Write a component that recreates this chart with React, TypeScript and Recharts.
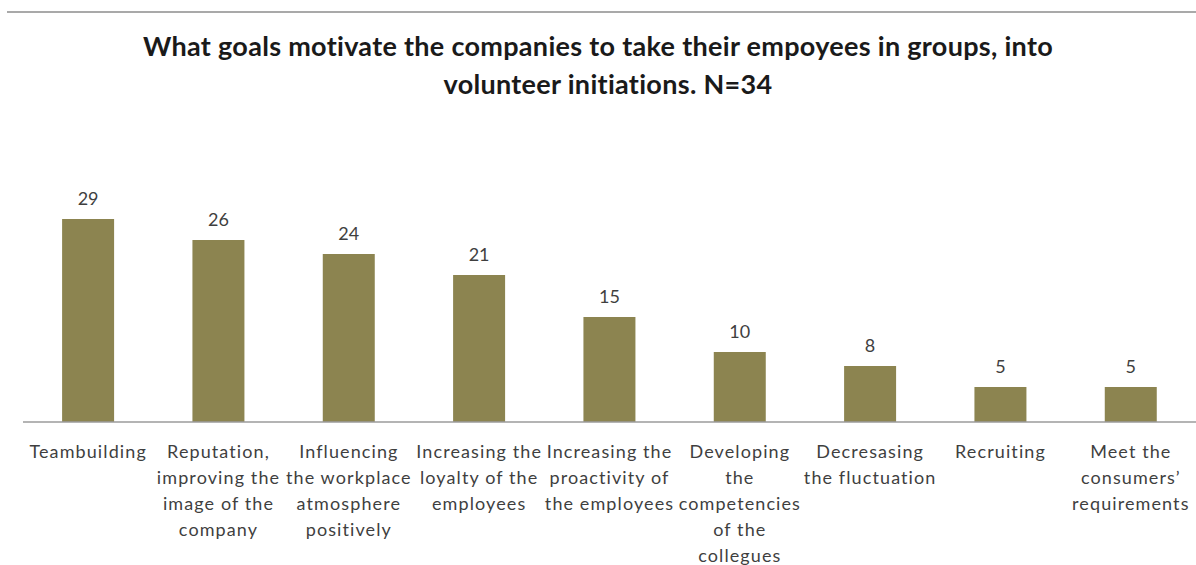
import { BarChart, Bar, XAxis, YAxis, LabelList } from 'recharts'

const categories = [
  'Teambuilding',
  'Reputation,\nimproving the\nimage of the\ncompany',
  'Influencing\nthe workplace\natmosphere\npositively',
  'Increasing the\nloyalty of the\nemployees',
  'Increasing the\nproactivity of\nthe employees',
  'Developing\nthe\ncompetencies\nof the\ncollegues',
  'Decresasing\nthe fluctuation',
  'Recruiting',
  'Meet the\nconsumers’\nrequirements',
]

const counts = [29, 26, 24, 21, 15, 10, 8, 5, 5]

const titleLines = [
  'What goals motivate the companies to take their empoyees in groups, into',
  'volunteer initiations. N=34',
]

const data = categories.map((name, i) => ({ name, value: counts[i] }))

const FONT = 'Lato, "Open Sans", sans-serif'
const BAR_COLOR = '#8c8450'
const TEXT_COLOR = '#3f3f3f'

function CategoryTick(props: any) {
  const { x, y, payload } = props
  const lines = String(payload.value).split('\n')
  return (
    <text x={x} y={y} textAnchor="middle" fill={TEXT_COLOR} fontSize={18} fontFamily={FONT} letterSpacing={1.1}>
      {lines.map((line, i) => (
        <tspan key={i} x={x} dy={i === 0 ? 36 : 26}>{line}</tspan>
      ))}
    </text>
  )
}

export default function App() {
  return (
    <div style={{ position: 'absolute', left: 0, top: 0, width: 1196, height: 565, background: '#fff', overflow: 'hidden' }}>
      <div style={{ position: 'absolute', left: 7, right: 0, top: 11, height: 2, background: '#a9a9a9' }} />
      <div style={{
        position: 'absolute', left: 0, top: 27, width: 1196, textAlign: 'center',
        fontFamily: FONT, fontWeight: 700, fontSize: 27, letterSpacing: 0.3, lineHeight: '38px', color: '#1a1a1a',
      }}>
        {titleLines.map((t, i) => <div key={i} style={{ paddingLeft: i === 1 ? 20 : 0 }}>{t}</div>)}
      </div>
      <div style={{ position: 'absolute', left: 0, top: 0 }}>
        <BarChart width={1196} height={565} data={data} margin={{ top: 177, right: 0, left: 23, bottom: 3 }} barCategoryGap="30%">
          <YAxis hide domain={[0, 35]} />
          <XAxis
            dataKey="name"
            interval={0}
            height={140}
            tickLine={false}
            tickSize={0}
            tickMargin={0}
            axisLine={{ stroke: '#9b9b9b', strokeWidth: 1.5 }}
            tick={<CategoryTick />}
          />
          <Bar dataKey="value" fill={BAR_COLOR} isAnimationActive={false}>
            <LabelList dataKey="value" position="top" offset={14} fill={TEXT_COLOR} fontSize={18} fontFamily={FONT} />
          </Bar>
        </BarChart>
      </div>
    </div>
  )
}
